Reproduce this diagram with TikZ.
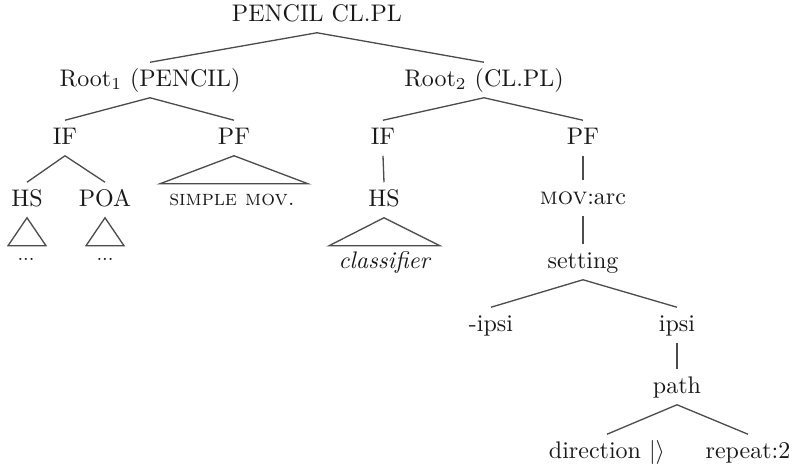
\documentclass[tikz,border=0pt]{standalone}
\usepackage{amsmath}
\begin{document}
\begin{tikzpicture}[x={(0.4167pt,0)}, y={(0,-0.4167pt)},
  lbl/.style={inner sep=2.7pt, text height=7pt, text depth=2pt, text=black!90},
  branch/.style={draw=black!70, line width=0.55pt},
  roof/.style={draw=black!70, line width=0.55pt, line join=miter}]
\useasboundingbox (0,0) rectangle (794,466);

% tree labels
\node[lbl] (top)  at (317,15)  {PENCIL CL.PL};
\node[lbl] (r1)   at (150,80)  {Root$_1$ (PENCIL)};
\node[lbl] (r2)   at (484,80)  {Root$_2$ (CL.PL)};
\node[lbl] (if1)  at (65,138)  {IF};
\node[lbl] (pf1)  at (234,138) {PF};
\node[lbl] (hs1)  at (27,200)  {HS};
\node[lbl] (poa)  at (105,200) {POA};
\node[lbl] (dots1) at (26,254) {\footnotesize ...};
\node[lbl] (dots2) at (105,254) {\footnotesize ...};
\node[lbl] (smov) at (232,199) {\small\textsc{simple mov.}};
\node[lbl] (if2)  at (383,138) {IF};
\node[lbl] (hs2)  at (384,200) {HS};
\node[lbl] (cls)  at (385,262) {\textit{classifier}};
\node[lbl] (pf2)  at (583,138) {PF};
\node[lbl] (mov)  at (583,198) {\textsc{mov}:arc};
\node[lbl] (set)  at (583,262) {setting};
\node[lbl] (mip)  at (491,325) {-ipsi};
\node[lbl] (ips)  at (677,325) {ipsi};
\node[lbl] (path) at (677,387) {path};
\node[lbl] (dir)  at (607,452) {direction $|\rangle$};
\node[lbl] (rep)  at (748,452) {repeat:2};

% branches
\draw[branch] (top.south) -- (r1.north);
\draw[branch] (top.south) -- (r2.north);
\draw[branch] (r1.south) -- (if1.north);
\draw[branch] (r1.south) -- (pf1.north);
\draw[branch] (if1.south) -- (hs1.north);
\draw[branch] (if1.south) -- (poa.north);
\draw[branch] (r2.south) -- (if2.north);
\draw[branch] (r2.south) -- (pf2.north);
\draw[branch] (if2.south) -- (hs2.north);
\draw[branch] (pf2.south) -- (mov.north);
\draw[branch] (mov.south) -- (set.north);
\draw[branch] (set.south) -- (mip.north);
\draw[branch] (set.south) -- (ips.north);
\draw[branch] (ips.south) -- (path.north);
\draw[branch] (path.south) -- (dir.north);
\draw[branch] (path.south) -- (rep.north);

% roofs over collapsed constituents
\draw[roof] (hs1.south) -- ++(-19,28) -- ++(38,0) -- cycle;
\draw[roof] (poa.south) -- ++(-19,28) -- ++(38,0) -- cycle;
\draw[roof] (pf1.south) -- ++(-74,28) -- ++(148,0) -- cycle;
\draw[roof] (hs2.south) -- ++(-55,28) -- ++(111,0) -- cycle;
\end{tikzpicture}
\end{document}
